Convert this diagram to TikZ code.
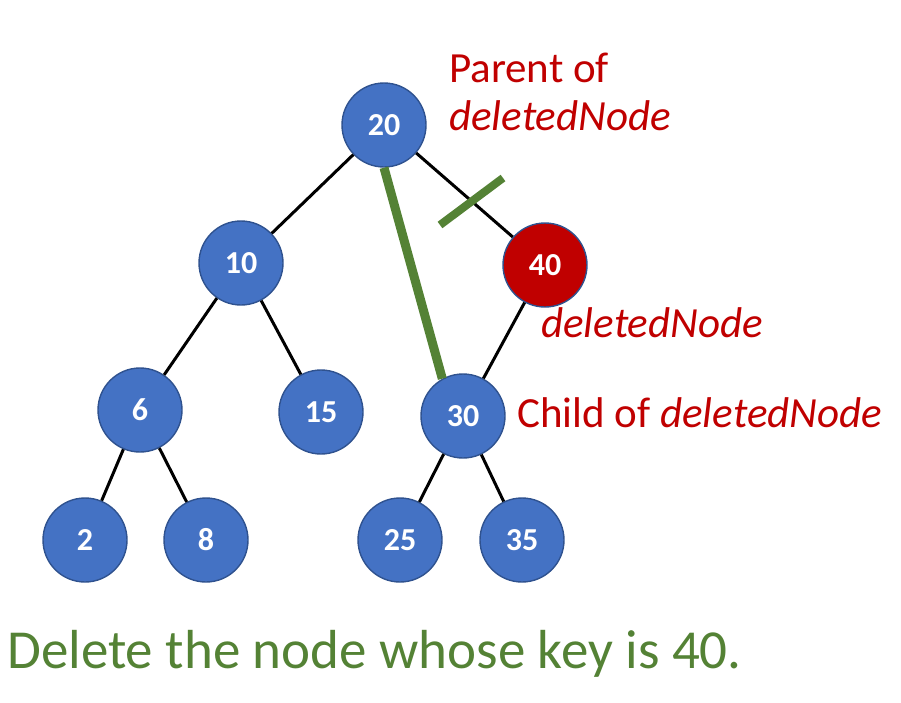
\documentclass[tikz,border=0pt]{standalone}
\usepackage{fontspec}
\setmainfont{Carlito}
\usetikzlibrary{positioning}
\definecolor{nodeblue}{HTML}{4472C4}
\definecolor{nodeedge}{HTML}{2F528F}
\definecolor{delred}{HTML}{C00000}
\definecolor{markgreen}{HTML}{548235}

\begin{document}
\begin{tikzpicture}[x=1pt, y=-1pt,
  treenode/.style={circle, draw=nodeedge, line width=1.4pt, fill=nodeblue,
    minimum size=84pt, inner sep=0pt, text=white,
    font=\fontsize{32}{36}\selectfont\bfseries},
  deleted/.style={treenode, fill=delred},
  treeedge/.style={line width=3pt},
  cutmark/.style={draw=markgreen, line width=8pt},
  note/.style={delred, anchor=base west, inner sep=0pt,
    font=\fontsize{43}{50}\selectfont}]
  \useasboundingbox (0,0) rectangle (901,702);

  % the tree
  \node [treenode] (n20) at (384,125) {20};
  \node [treenode] (n10) at (241,263) {10};
  \node [deleted]  (n40) at (545,265) {40};
  \node [treenode] (n6)  at (140,410) {6};
  \node [treenode] (n15) at (321,412) {15};
  \node [treenode] (n30) at (463,416) {30};
  \node [treenode] (n2)  at (85,540)  {2};
  \node [treenode] (n8)  at (206,540) {8};
  \node [treenode] (n25) at (400,540) {25};
  \node [treenode] (n35) at (522,540) {35};

  \draw [treeedge] (n20) -- (n10);
  \draw [treeedge] (n20) -- (n40);
  \draw [treeedge] (n10) -- (n6);
  \draw [treeedge] (n10) -- (n15);
  \draw [treeedge] (n40) -- (n30);
  \draw [treeedge] (n6) -- (n2);
  \draw [treeedge] (n6) -- (n8);
  \draw [treeedge] (n30) -- (n25);
  \draw [treeedge] (n30) -- (n35);

  % new link and cut link
  \draw [draw=markgreen, line width=9pt] (n20.south) -- (n30.119);
  \coordinate (cutA) at (440,225);
  \coordinate (cutB) at (503,178);
  \draw [cutmark] (cutA) -- (cutB);

  % labels
  \node [note] (parent) at (449,82) {Parent of};
  \node [note, below=48pt of parent.base west, anchor=base west] (parentB) {\itshape deletedNode};
  \node [note] (delnote) at (541,337) {\itshape deletedNode};
  \node [note] (child) at (517,427) {Child of \textit{deletedNode}};
  \node [markgreen, anchor=base west, inner sep=0pt,
    font=\fontsize{55}{60}\selectfont] (caption) at (7,668)
    {Delete the node whose key is 40.};
\end{tikzpicture}
\end{document}
